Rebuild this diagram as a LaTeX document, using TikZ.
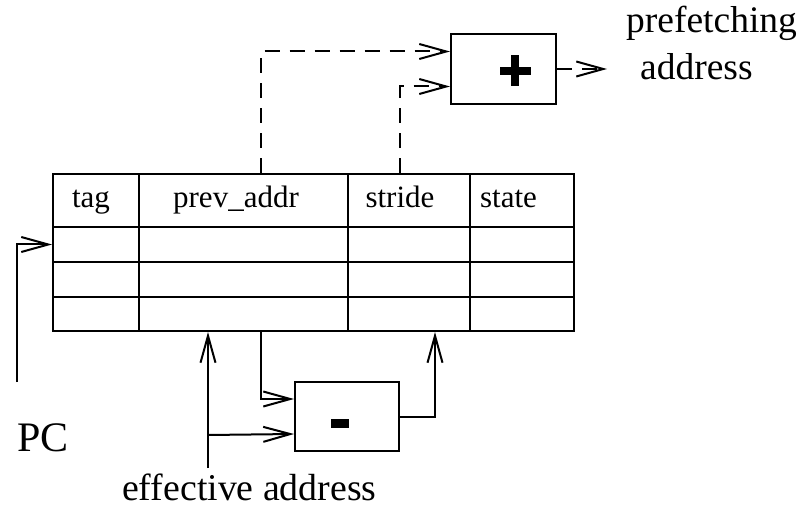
\documentclass[tikz,border=0pt]{standalone}
\usepackage{fontspec}
\setmainfont{Liberation Serif}
\usetikzlibrary{arrows.meta,calc}

\tikzset{
  >={Straight Barb[length=27pt,width=15pt]},
  wire/.style={line width=2pt},
  dwire/.style={line width=2pt, dash pattern=on 15pt off 10pt},
  cell/.style={draw, line width=2pt, inner sep=0pt, anchor=north west,
    font=\fontsize{31}{34}\selectfont, text height=21.5pt, text depth=7.5pt},
  unit/.style={draw, line width=2pt, rectangle, inner sep=0pt},
  label/.style={inner sep=0pt, anchor=base west},
  signbar/.style={fill=black, inner sep=0pt, draw=none}
}

\begin{document}
\begin{tikzpicture}[x=1pt, y=-1pt]
\useasboundingbox (0,0) rectangle (802,510);

% header row of the stride table (titles sit a little left of centre)
\node[cell, minimum width=86pt,  minimum height=53pt] (tag)    at (52,173)  {\hspace*{-10pt}tag};
\node[cell, minimum width=209pt, minimum height=53pt] (prev)   at (138,173) {\hspace*{-15pt}prev\_addr};
\node[cell, minimum width=122pt, minimum height=53pt] (stride) at (347,173) {\hspace*{-18pt}stride};
\node[cell, minimum width=104pt, minimum height=53pt] (state)  at (469,173) {\hspace*{-27pt}state};

% empty entries
\foreach \r/\y/\h in {1/226/35, 2/261/35, 3/296/34} {
  \node[cell, minimum width=86pt,  minimum height=\h pt] (r\r c1) at (52,\y)  {};
  \node[cell, minimum width=209pt, minimum height=\h pt] (r\r c2) at (138,\y) {};
  \node[cell, minimum width=122pt, minimum height=\h pt] (r\r c3) at (347,\y) {};
  \node[cell, minimum width=104pt, minimum height=\h pt] (r\r c4) at (469,\y) {};
}

% adder and subtractor
\node[unit, minimum width=105pt, minimum height=70pt] (plus) at (503.5,69) {};
\node[signbar, minimum width=31pt, minimum height=8pt] (plush) at (515,71) {};
\node[signbar, minimum width=8pt, minimum height=31pt] (plusv) at (515,71) {};

\node[unit, minimum width=104pt, minimum height=69pt] (sub) at (347,416.5) {};
\node[signbar, minimum width=18pt, minimum height=9pt] (minus) at (340,423) {};

% labels
\node[label, font=\fontsize{37.5}{40}\selectfont] (pflab1) at (626,33) {prefetching};
\node[label, font=\fontsize{37.5}{40}\selectfont] (pflab2) at (640,80) {address};
\node[label, font=\fontsize{42}{44}\selectfont] (pclab) at (17,451) {PC};
\node[label, font=\fontsize{37.8}{40}\selectfont] (ealab) at (122,500) {effective address};

% free ends
\coordinate (pcend) at (17,382);
\coordinate (ea) at (208,468);
\coordinate (out) at (607,69);

% PC indexes the table
\draw[wire,->] (pcend) |- (r1c1.west);

% effective address into table and subtractor
\draw[wire,->] (ea) -- (ea |- r3c2.south);
\draw[wire,->] (ea |- sub.south) ++(0,-17) -- ($(sub.west)+(0,17.5)$);
\draw[wire,->] ([xshift=17.5pt]r3c2.south) |- ($(sub.west)+(0,-17.5)$);

% new stride written back
\draw[wire,->] (sub.east) -| ([xshift=26pt]r3c3.south);

% prefetch address computation
\draw[dwire,->] ([xshift=17.5pt]prev.north) |- ($(plus.west)+(0,-17.5)$);
\draw[dwire,->] ([xshift=-9pt]stride.north) |- ($(plus.west)+(0,17.5)$);
\draw[dwire,->] (plus.east) -- (out);
\end{tikzpicture}
\end{document}
